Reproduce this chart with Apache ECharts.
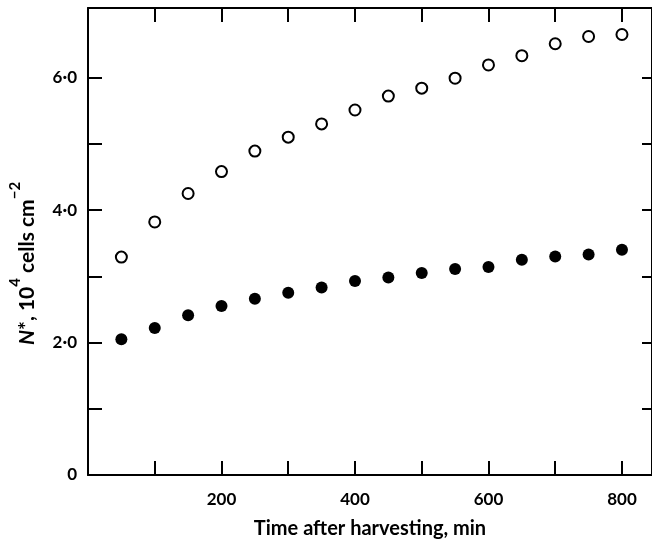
<!DOCTYPE html>
<html>
<head>
<meta charset="utf-8">
<script src="https://cdn.jsdelivr.net/npm/echarts@6/dist/echarts.min.js"></script>
<style>html,body{margin:0;padding:0;background:#fff}#c{width:652px;height:544px}</style>
</head>
<body>
<div id="c"></div>
<script>
// Data
const times = [50, 100, 150, 200, 250, 300, 350, 400, 450, 500, 550, 600, 650, 700, 750, 800];
const openValues = [3.29, 3.82, 4.25, 4.58, 4.89, 5.10, 5.30, 5.51, 5.72, 5.84, 5.99, 6.19, 6.33, 6.51, 6.62, 6.65];
const filledValues = [2.05, 2.22, 2.41, 2.55, 2.66, 2.75, 2.83, 2.93, 2.98, 3.05, 3.11, 3.14, 3.25, 3.30, 3.33, 3.40];
const xTicks = [100, 200, 300, 400, 500, 600, 700, 800];
const xLabels = [200, 400, 600, 800];
const yTicks = [1, 2, 3, 4, 5, 6];
const yLabels = [0, 2, 4, 6];

const FONT = 'Lato';
const ink = '#000';
const chart = echarts.init(document.getElementById('c'), null, {renderer: 'canvas'});

const lineStyle = {color: ink, width: 2};
const tickStyle = {color: ink, width: 2};

function fmtY(v) { return v === 0 ? '0' : v.toFixed(1).replace('.', '\u00B7'); }

chart.setOption({
  animation: false,
  backgroundColor: '#fff',
  grid: {left: 83, top: 8, width: 572, height: 475, containLabel: false},
  xAxis: [
    {
      type: 'value', position: 'bottom', min: 0, max: 845,
      axisLine: {show: true, lineStyle: lineStyle},
      axisTick: {show: true, inside: true, length: 14, lineStyle: tickStyle, customValues: xTicks},
      axisLabel: {show: true, customValues: xLabels, margin: 16, color: ink, fontFamily: FONT, fontSize: 17, fontWeight: 'bold'},
      splitLine: {show: false},
      name: 'Time after harvesting, min', nameLocation: 'middle', nameGap: 44,
      nameTextStyle: {color: ink, fontFamily: FONT, fontSize: 20, fontWeight: 'bold'}
    },
    {
      type: 'value', position: 'top', min: 0, max: 845,
      axisLine: {show: true, onZero: false, lineStyle: lineStyle},
      axisTick: {show: true, inside: true, length: 14, lineStyle: tickStyle, customValues: xTicks},
      axisLabel: {show: false},
      splitLine: {show: false}
    }
  ],
  yAxis: [
    {
      type: 'value', position: 'left', min: 0, max: 7.05,
      axisLine: {show: true, lineStyle: lineStyle},
      axisTick: {show: true, inside: true, length: 14, lineStyle: tickStyle, customValues: yTicks},
      axisLabel: {show: true, customValues: yLabels, formatter: fmtY, margin: 11, color: ink, fontFamily: FONT, fontSize: 17, fontWeight: 'bold'},
      splitLine: {show: false},
      name: '{it|N}{n|*, 10}{sup|4}{n| cells cm}{sup|\u22122}',
      nameLocation: 'middle', nameRotate: 90, nameGap: 50,
      nameTextStyle: {
        color: ink, fontFamily: FONT, fontSize: 21, fontWeight: 'bold',
        padding: [0, 44, 0, 0],
        rich: {
          it: {fontFamily: FONT, fontSize: 21, fontStyle: 'italic', fontWeight: 'bold', color: ink, lineHeight: 30, verticalAlign: 'bottom'},
          n: {fontFamily: FONT, fontSize: 21, fontWeight: 'bold', color: ink, lineHeight: 30, verticalAlign: 'bottom'},
          sup: {fontFamily: FONT, fontSize: 15, fontWeight: 'bold', color: ink, lineHeight: 15, verticalAlign: 'top'}
        }
      }
    },
    {
      type: 'value', position: 'right', min: 0, max: 7.05,
      axisLine: {show: true, onZero: false, lineStyle: lineStyle},
      axisTick: {show: true, inside: true, length: 10, lineStyle: tickStyle, customValues: yTicks},
      axisLabel: {show: false},
      splitLine: {show: false}
    }
  ],
  series: [
    {
      type: 'scatter', xAxisIndex: 0, yAxisIndex: 0,
      data: times.map((t, i) => [t, openValues[i]]),
      symbol: 'circle', symbolSize: 11,
      itemStyle: {color: '#fff', borderColor: ink, borderWidth: 2, opacity: 1}
    },
    {
      type: 'scatter', xAxisIndex: 0, yAxisIndex: 0,
      data: times.map((t, i) => [t, filledValues[i]]),
      symbol: 'circle', symbolSize: 12,
      itemStyle: {color: ink, opacity: 1}
    }
  ]
});
</script>
</body>
</html>
